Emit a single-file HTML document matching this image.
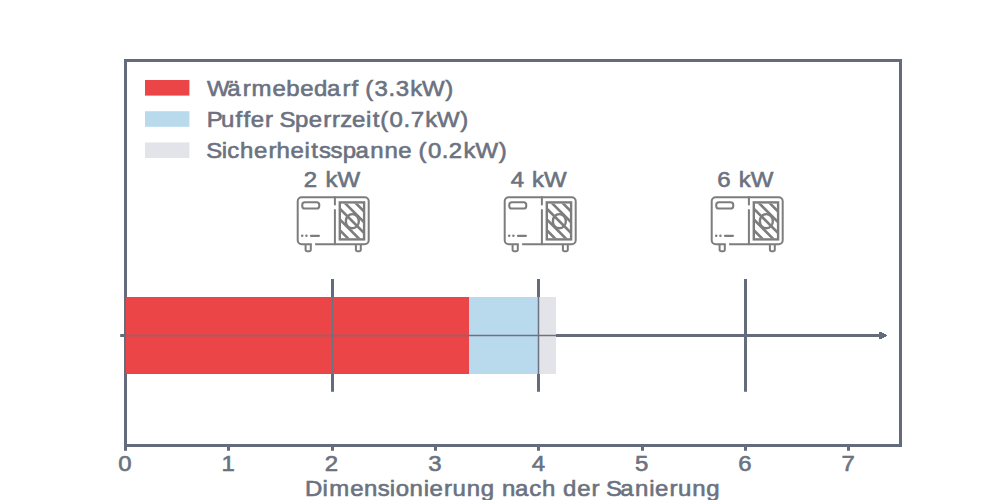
<!DOCTYPE html>
<html>
<head>
<meta charset="utf-8">
<style>
html,body{margin:0;padding:0;background:#ffffff;width:1000px;height:500px;overflow:hidden;}
svg{display:block;}
text{font-family:"Liberation Sans", sans-serif;fill:#6b7280;font-size:22.2px;stroke:#6b7280;stroke-width:0.6px;}
</style>
</head>
<body>
<svg width="1000" height="500" viewBox="0 0 1000 500">
<defs>
  <clipPath id="grille"><rect x="340.8" y="203.4" width="22.3" height="35"/></clipPath>
  <g id="icon" fill="none" stroke="#7d7d7d" stroke-width="2">
    <path d="M315.1 244.2 H364.7 A4 4 0 0 0 368.7 240.2 V201.2 A4 4 0 0 0 364.7 197.2 H301.7 A4 4 0 0 0 297.7 201.2 V240.2 A4 4 0 0 0 301.7 244.2 H311.8"/>
    <path d="M334.9 197.2 V204.4" stroke-linecap="round"/><path d="M334.9 209.9 V244.2" stroke-linecap="round"/>
    <rect x="302.25" y="202.25" width="17" height="6.3" rx="2.6" stroke-width="2.05"/>
    <path d="M302.2 235.8 h0.01 M306.4 235.8 h0.01" stroke-linecap="round" stroke-width="2.5"/><path d="M311 235.8 H318.9" stroke-linecap="round" stroke-width="2.3"/>
    <g stroke-width="2.4">
    <rect x="339.8" y="202.4" width="24.3" height="37"/>
    <ellipse cx="352.35" cy="221.2" rx="6.5" ry="7.1"/>
    <g clip-path="url(#grille)" stroke-width="2.6">
      <path d="M290 180.4 L400 290.4 M290 169.65 L400 279.65 M290 158.9 L400 268.9 M290 148.15 L400 258.15 M290 137.4 L400 247.4"/>
    </g>
    </g>
    <path d="M305.6 244.2 V249.8 A1.5 1.5 0 0 0 307.1 251.3 H309.3 A1.5 1.5 0 0 0 310.8 249.8 V244.2"/>
    <path d="M355.9 244.2 V249.8 A1.5 1.5 0 0 0 357.4 251.3 H359.3 A1.5 1.5 0 0 0 360.8 249.8 V244.2"/>
  </g>
</defs>

<!-- spines -->
<g stroke="#646b7b" stroke-width="3" fill="none">
  <rect x="125.5" y="60.5" width="775" height="385"/>
  <path d="M125.5 445 V450.8 M228.5 445 V450.8 M332.5 445 V450.8 M435.5 445 V450.8 M538.5 445 V450.8 M642.5 445 V450.8 M745.5 445 V450.8 M848.5 445 V450.8"/>
  <!-- arrow line outside bars -->
  <path d="M120.2 335.5 H879"/>
  <!-- vertical markers -->
  <path d="M332.5 279 V391.7 M538.5 279 V391.7 M745.5 279 V391.7"/>
</g>
<path d="M879 332 H882 V333 H884 V334 H886 V335 H887 V336 H886 V337 H884 V338 H882 V339 H879 Z" fill="#646b7b" shape-rendering="crispEdges"/>

<!-- bars -->
<rect x="126" y="297" width="343" height="77" fill="#eb4547"/>
<rect x="469" y="297" width="69.5" height="77" fill="#b8daec"/>
<rect x="538.5" y="297" width="17.5" height="77" fill="#e3e4e9"/>
<!-- thin lines over bars -->
<g stroke="#6b7280" stroke-width="1.5" fill="none">
  <path d="M126 335.5 H556"/>
  <path d="M332.5 296.5 V374 M538.5 296.5 V374"/>
</g>

<!-- legend -->
<rect x="145" y="80" width="44.4" height="15.6" fill="#eb4547"/>
<rect x="145" y="111.2" width="44.4" height="15.6" fill="#b8daec"/>
<rect x="145" y="142.4" width="44.4" height="15.6" fill="#e3e4e9"/>

<!-- kW labels -->

<!-- icons -->
<use href="#icon"/>
<use href="#icon" x="207"/>
<use href="#icon" x="414"/>

<g id="texts">
<text transform="scale(1.08 1)" x="191.78 210.54 224.73 232.77 252.21 265.16 277.96 290.68 302.86 317.05 325.40 332.05 338.16 346.84 359.73 366.50 379.76 390.83 412.39" y="96">Wärmebedarf (3.3kW)</text>
<text transform="scale(1.08 1)" x="191.37 204.62 218.17 225.42 232.08 245.47 253.21 258.81 273.13 285.93 299.32 307.44 314.95 326.01 338.89 345.10 352.04 360.69 373.61 380.31 393.64 404.71 426.27" y="127">Puffer Sperrzeit(0.7kW)</text>
<text transform="scale(1.08 1)" x="191.03 205.27 210.45 222.28 235.18 248.57 256.13 269.03 281.91 288.12 295.27 306.00 317.26 329.20 342.87 355.93 368.79 381.45 387.57 396.22 409.14 415.61 429.17 440.24 461.80" y="158">Sicherheitsspanne (0.2kW)</text>
<text transform="scale(1.08 1)" x="281.23 294.43 301.34 312.41" y="187">2 kW</text>
<text transform="scale(1.08 1)" x="472.86 485.78 492.69 503.77" y="187">4 kW</text>
<text transform="scale(1.08 1)" x="664.22 677.14 684.05 695.13" y="187">6 kW</text>
<text transform="scale(1.08 1)" x="109.56" y="471">0</text>
<text transform="scale(1.08 1)" x="205.12" y="471">1</text>
<text transform="scale(1.08 1)" x="300.65" y="471">2</text>
<text transform="scale(1.08 1)" x="396.63" y="471">3</text>
<text transform="scale(1.08 1)" x="492.28" y="471">4</text>
<text transform="scale(1.08 1)" x="587.88" y="471">5</text>
<text transform="scale(1.08 1)" x="683.64" y="471">6</text>
<text transform="scale(1.08 1)" x="779.27" y="471">7</text>
<text transform="scale(1.08 1)" x="282.31 298.65 304.80 324.24 337.11 349.73 360.91 366.36 379.23 392.29 397.81 411.21 419.06 432.21 445.11 458.14 464.89 476.90 490.04 501.87 514.75 521.36 534.39 547.78 555.52 561.12 574.31 587.98 601.05 606.57 619.96 627.82 640.96 653.87" y="496">Dimensionierung nach der Sanierung</text>
</g>
</svg>
</body>
</html>
